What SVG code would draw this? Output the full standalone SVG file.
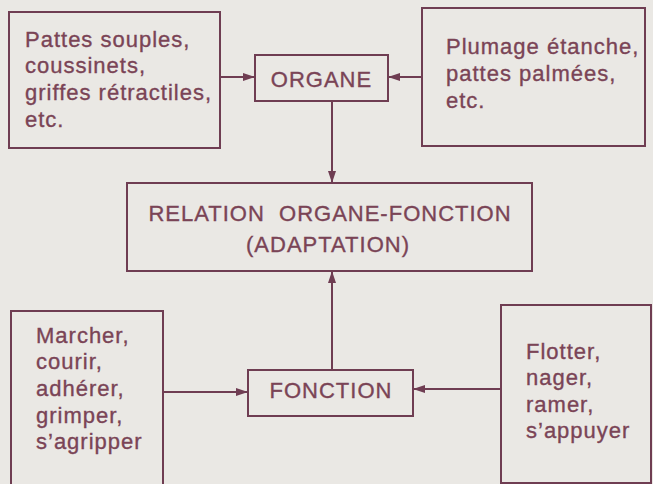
<svg xmlns="http://www.w3.org/2000/svg" width="653" height="484" viewBox="0 0 653 484">
<defs>
<style>
.box{fill:none;stroke:#6f3d52;stroke-width:2}
.t{font-family:"Liberation Sans",Arial,sans-serif;font-size:22px;fill:#7a4456;stroke:#7a4456;stroke-width:0.35;letter-spacing:1px}
.ln{stroke:#6f3d52;stroke-width:2;fill:none}
</style>
<marker id="ah" viewBox="0 0 12 8" refX="12" refY="4" markerWidth="12" markerHeight="8" markerUnits="userSpaceOnUse" orient="auto">
<path d="M0,0 L12,4 L0,8 Z" fill="#6f3d52"/>
</marker>
</defs>
<rect width="653" height="484" fill="#eae8e4"/>
<g id="connectors">
<line class="ln" x1="220" y1="77" x2="255" y2="77" marker-end="url(#ah)"/>
<line class="ln" x1="422" y1="77" x2="388" y2="77" marker-end="url(#ah)"/>
<line class="ln" x1="332" y1="101" x2="332" y2="183" marker-end="url(#ah)"/>
<line class="ln" x1="332" y1="370" x2="332" y2="271" marker-end="url(#ah)"/>
<line class="ln" x1="163" y1="392" x2="248" y2="392" marker-end="url(#ah)"/>
<line class="ln" x1="501" y1="389" x2="413" y2="389" marker-end="url(#ah)"/>
</g>
<g id="n-pattes">
<rect class="box" x="9" y="12" width="211" height="136"/>
<text class="t" x="25" y="47">Pattes souples,</text>
<text class="t" x="25" y="73">coussinets,</text>
<text class="t" x="25" y="100">griffes rétractiles,</text>
<text class="t" x="25" y="127">etc.</text>
</g>
<g id="n-organe">
<rect class="box" x="255" y="55" width="133" height="46"/>
<text class="t" x="321.5" y="87" text-anchor="middle">ORGANE</text>
</g>
<g id="n-plumage">
<rect class="box" x="422" y="8" width="223" height="138"/>
<text class="t" x="446" y="54">Plumage étanche,</text>
<text class="t" x="446" y="81">pattes palmées,</text>
<text class="t" x="446" y="108">etc.</text>
</g>
<g id="n-relation">
<rect class="box" x="127" y="183" width="405" height="88"/>
<text class="t" x="330" y="221" text-anchor="middle" xml:space="preserve">RELATION  ORGANE-FONCTION</text>
<text class="t" x="328" y="252" text-anchor="middle">(ADAPTATION)</text>
</g>
<g id="n-marcher">
<path class="box" d="M11,490 V311 H163 V490"/>
<text class="t" x="36" y="343">Marcher,</text>
<text class="t" x="36" y="369">courir,</text>
<text class="t" x="36" y="396">adhérer,</text>
<text class="t" x="36" y="423">grimper,</text>
<text class="t" x="36" y="449">s’agripper</text>
</g>
<g id="n-fonction">
<rect class="box" x="248" y="370" width="165" height="46"/>
<text class="t" x="331" y="398" text-anchor="middle">FONCTION</text>
</g>
<g id="n-flotter">
<rect class="box" x="501" y="305" width="150" height="178"/>
<text class="t" x="526" y="359">Flotter,</text>
<text class="t" x="526" y="385">nager,</text>
<text class="t" x="526" y="412">ramer,</text>
<text class="t" x="526" y="438">s’appuyer</text>
</g>
</svg>
